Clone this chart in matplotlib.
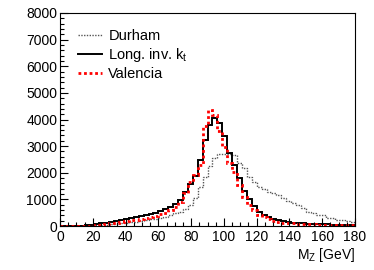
import numpy as np
import matplotlib
matplotlib.use("Agg")
import matplotlib.pyplot as plt
from matplotlib.ticker import MultipleLocator

plt.rcParams['font.family'] = ['Liberation Sans', 'DejaVu Sans']
plt.rcParams['mathtext.default'] = 'regular'

# bin edges: 60 bins of 3 GeV from 0 to 180
edges = np.arange(0, 181, 3)

durham = [0, 0, 0, 1, 2, 5, 10, 20, 30, 45,
          60, 75, 95, 115, 140, 165, 190, 215, 245, 280,
          315, 355, 410, 470, 530, 620, 800, 1050, 1450, 1850,
          2250, 2550, 2700, 2700, 2700, 2650, 2350, 2170, 1850, 1660,
          1480, 1400, 1290, 1230, 1165, 1040, 930, 850, 790, 660,
          540, 470, 415, 400, 300, 290, 230, 225, 170, 145]

longkt = [0, 0, 2, 5, 10, 20, 40, 70, 95, 125,
          160, 190, 220, 255, 290, 320, 360, 400, 440, 500,
          560, 630, 725, 830, 976, 1290, 1560, 1880, 2480, 3230,
          3790, 4050, 3850, 3380, 2730, 2290, 1790, 1330, 1000, 750,
          540, 410, 330, 260, 210, 175, 150, 130, 115, 100,
          90, 80, 72, 65, 60, 55, 50, 45, 42, 40]

valencia = [0, 0, 1, 3, 6, 12, 25, 40, 55, 75,
            100, 120, 150, 180, 210, 240, 270, 300, 340, 390,
            440, 500, 600, 720, 900, 1250, 1640, 1900, 2300, 3750,
            4370, 4170, 3550, 2950, 2350, 2030, 1540, 1100, 800, 600,
            420, 330, 250, 200, 160, 130, 110, 95, 85, 75,
            65, 60, 55, 50, 45, 40, 38, 35, 33, 30]

labels = ["Durham", r"Long. inv. k$_{t}$", "Valencia"]

fig = plt.figure(figsize=(3.74, 2.70), dpi=100)
ax = fig.add_axes([60/374, 1-226/270, 295/374, 213/270])

ax.stairs(durham, edges, color='#555555', linestyle=(0, (1, 1)), linewidth=1.0, label=labels[0])
ax.stairs(longkt, edges, color='black', linestyle='-', linewidth=1.4, label=labels[1])
ax.stairs(valencia, edges, color='#ff0000', linestyle=(0, (1, 1)), linewidth=2.0, label=labels[2])

ax.set_xlim(0, 180)
ax.set_ylim(0, 8000)
ax.xaxis.set_major_locator(MultipleLocator(20))
ax.xaxis.set_minor_locator(MultipleLocator(5))
ax.yaxis.set_major_locator(MultipleLocator(1000))
ax.yaxis.set_minor_locator(MultipleLocator(200))
ax.tick_params(which='both', direction='in', top=False, right=False, labelsize=10)
ax.tick_params(which='major', length=6, width=0.8)
ax.tick_params(which='minor', length=3, width=0.8)
ax.tick_params(axis='y', pad=2)
ax.tick_params(axis='x', pad=3)
for s in ax.spines.values():
    s.set_linewidth(0.8)

ax.set_xlabel(r"M$_{Z}$ [GeV]", fontsize=10, ha='right')
ax.xaxis.set_label_coords(1.0, -0.095)

leg = ax.legend(loc='upper left', bbox_to_anchor=(0.04, 0.95), frameon=False,
                fontsize=10.5, handlelength=1.7, handletextpad=0.4,
                labelspacing=0.2, borderaxespad=0)

fig.savefig("out.png", dpi=100)
